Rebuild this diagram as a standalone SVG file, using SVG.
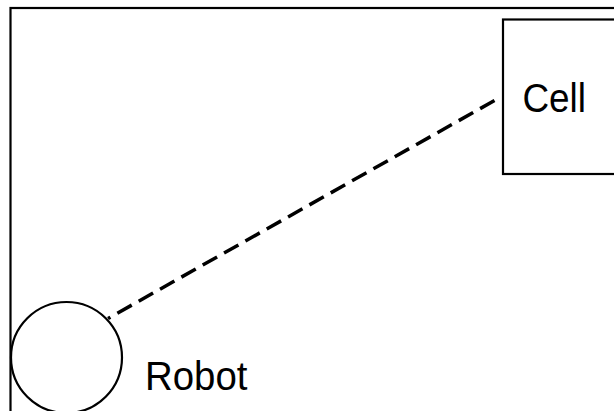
<svg xmlns="http://www.w3.org/2000/svg" width="614" height="411" viewBox="0 0 614 411">
  <style>
    .shape { fill: #ffffff; stroke: #000000; stroke-width: 2.2; }
    .label { font-family: "Liberation Sans", Arial, sans-serif; font-size: 40px; fill: #000000; }
    .link { fill: none; stroke: #000000; stroke-width: 3.5; stroke-dasharray: 16.5 8; }
  </style>
  <rect x="0" y="0" width="614" height="411" fill="#ffffff"/>
  <g id="area">
    <rect class="shape" x="10.5" y="8" width="620" height="420"/>
  </g>
  <g id="connectors">
    <line class="link" x1="494.5" y1="100.5" x2="108" y2="318.5"/>
  </g>
  <g id="cell">
    <rect class="shape" x="503" y="19.5" width="130" height="154.5"/>
    <text class="label" x="522.5" y="111.5" textLength="63.5" lengthAdjust="spacingAndGlyphs">Cell</text>
  </g>
  <g id="robot">
    <circle class="shape" cx="66.5" cy="357.5" r="55.5"/>
    <text class="label" x="145" y="389.5" textLength="102.5" lengthAdjust="spacingAndGlyphs">Robot</text>
  </g>
</svg>
